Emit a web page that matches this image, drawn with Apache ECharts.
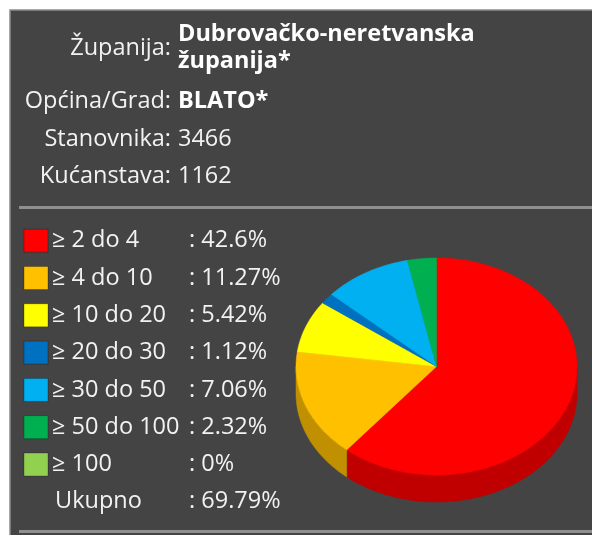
<!DOCTYPE html>
<html>
<head>
<meta charset="utf-8">
<script src="https://cdn.jsdelivr.net/npm/echarts@6/dist/echarts.min.js"></script>
<style>
html,body{margin:0;padding:0;background:#fff;}
#chart{width:592px;height:535px;}
</style>
</head>
<body>
<div id="chart"></div>
<script>
// ---- data ----
const infoLabels = ['Županija:', 'Općina/Grad:', 'Stanovnika:', 'Kućanstava:'];
const infoValues = ['Dubrovačko-neretvanska\nžupanija*', 'BLATO*', '3466', '1162'];
const categories = ['≥ 2 do 4', '≥ 4 do 10', '≥ 10 do 20', '≥ 20 do 30', '≥ 30 do 50', '≥ 50 do 100', '≥ 100'];
const percents = [42.6, 11.27, 5.42, 1.12, 7.06, 2.32, 0];
const totalLabel = 'Ukupno';
const totalPercent = 69.79;
const colors = ['#ff0000', '#ffc000', '#ffff00', '#0070c0', '#00b0f0', '#00b050', '#92d050'];
const sideColors = ['#c00000', '#c09000', '#c0c000', '#00508c', '#0084b4', '#00843c', '#6e9c3c'];

// ---- layout ----
const PIE = { cx: 436.5, cy: 366.5, rx: 140.5, ry: 108.5, depth: 27 };
const FONT = '"Open Sans", "DejaVu Sans", sans-serif';
const FS = 23.5;
const textColor = '#f2f2f2';

const total = percents.reduce((a, b) => a + b, 0);
const starts = [];
let acc = 0;
percents.forEach(v => { starts.push(acc); acc += v; });

function pt(theta, dy) {
  return [PIE.cx + PIE.rx * Math.sin(theta), PIE.cy - PIE.ry * Math.cos(theta) + (dy || 0)];
}
function arc(a0, a1, dy) {
  const pts = [];
  const n = Math.max(2, Math.ceil((a1 - a0) / 0.02));
  for (let k = 0; k <= n; k++) pts.push(pt(a0 + (a1 - a0) * k / n, dy));
  return pts;
}
function angles(idx) {
  const a0 = starts[idx] / total * Math.PI * 2;
  const a1 = (starts[idx] + percents[idx]) / total * Math.PI * 2;
  return [a0, a1];
}

const pieData = percents.map((v, i) => ({ name: categories[i], value: v }));

const graphics = [];
// panel
graphics.push({ type: 'rect', shape: { x: 10, y: 10, width: 600, height: 540 }, style: { fill: '#444444', stroke: '#8c8c8c', lineWidth: 1.5 }, z: 0 });
// separators
graphics.push({ type: 'rect', shape: { x: 19, y: 206, width: 580, height: 3 }, style: { fill: '#8f8f8f' }, z: 1 });
graphics.push({ type: 'rect', shape: { x: 19, y: 530, width: 580, height: 3 }, style: { fill: '#8f8f8f' }, z: 1 });

// info block
const labelY = [48, 101, 139, 176];
const valueY = [34, 101, 139, 176];
infoLabels.forEach((t, i) => {
  graphics.push({ type: 'text', x: 171, y: labelY[i], z: 2,
    style: { text: t, fill: textColor, font: FS + 'px ' + FONT, align: 'right', verticalAlign: 'middle' } });
  const bold = i < 2;
  graphics.push({ type: 'text', x: 178, y: i === 0 ? 21 : valueY[i], z: 2,
    style: { text: infoValues[i], fill: bold ? '#ffffff' : textColor, font: (bold ? 'bold ' : '') + FS + 'px ' + FONT,
      align: 'left', verticalAlign: i === 0 ? 'top' : 'middle', lineHeight: 27 } });
});

// legend
const rowY0 = 240.7, rowStep = 37.3;
categories.forEach((c, i) => {
  const y = rowY0 + i * rowStep;
  graphics.push({ type: 'rect', z: 2, shape: { x: 24, y: y - 11.5, width: 24, height: 23 },
    style: { fill: colors[i], stroke: 'rgba(0,0,0,0.25)', lineWidth: 1 } });
  graphics.push({ type: 'text', x: 52, y: y, z: 2,
    style: { text: c, fill: textColor, font: FS + 'px ' + FONT, align: 'left', verticalAlign: 'middle' } });
  graphics.push({ type: 'text', x: 189, y: y, z: 2,
    style: { text: ': ' + percents[i] + '%', fill: textColor, font: FS + 'px ' + FONT, align: 'left', verticalAlign: 'middle' } });
});
const yTot = rowY0 + categories.length * rowStep;
graphics.push({ type: 'text', x: 55, y: yTot, z: 2,
  style: { text: totalLabel, fill: textColor, font: FS + 'px ' + FONT, align: 'left', verticalAlign: 'middle' } });
graphics.push({ type: 'text', x: 189, y: yTot, z: 2,
  style: { text: ': ' + totalPercent + '%', fill: textColor, font: FS + 'px ' + FONT, align: 'left', verticalAlign: 'middle' } });

const chart = echarts.init(document.getElementById('chart'), null, { renderer: 'canvas' });
chart.setOption({
  animation: false,
  backgroundColor: '#ffffff',
  graphic: graphics,
  series: [
    {
      type: 'custom', coordinateSystem: 'none', z: 3, silent: true,
      data: pieData,
      renderItem: function (params, api) {
        const i = params.dataIndex;
        if (!percents[i]) return null;
        const [a0, a1] = angles(i);
        const s = Math.max(a0, Math.PI / 2), e = Math.min(a1, Math.PI * 1.5);
        if (e <= s) return null;
        const top = arc(s, e, 0);
        const bot = arc(s, e, PIE.depth).reverse();
        return { type: 'polygon', shape: { points: top.concat(bot) },
          style: { fill: sideColors[i], stroke: sideColors[i], lineWidth: 0.5 } };
      }
    },
    {
      type: 'custom', coordinateSystem: 'none', z: 4, silent: true,
      data: pieData,
      renderItem: function (params, api) {
        const i = params.dataIndex;
        if (!percents[i]) return null;
        const [a0, a1] = angles(i);
        const pts = [[PIE.cx, PIE.cy]].concat(arc(a0, a1, 0));
        return { type: 'polygon', shape: { points: pts },
          style: { fill: colors[i], stroke: colors[i], lineWidth: 0.5 } };
      }
    }
  ]
});
</script>
</body>
</html>
